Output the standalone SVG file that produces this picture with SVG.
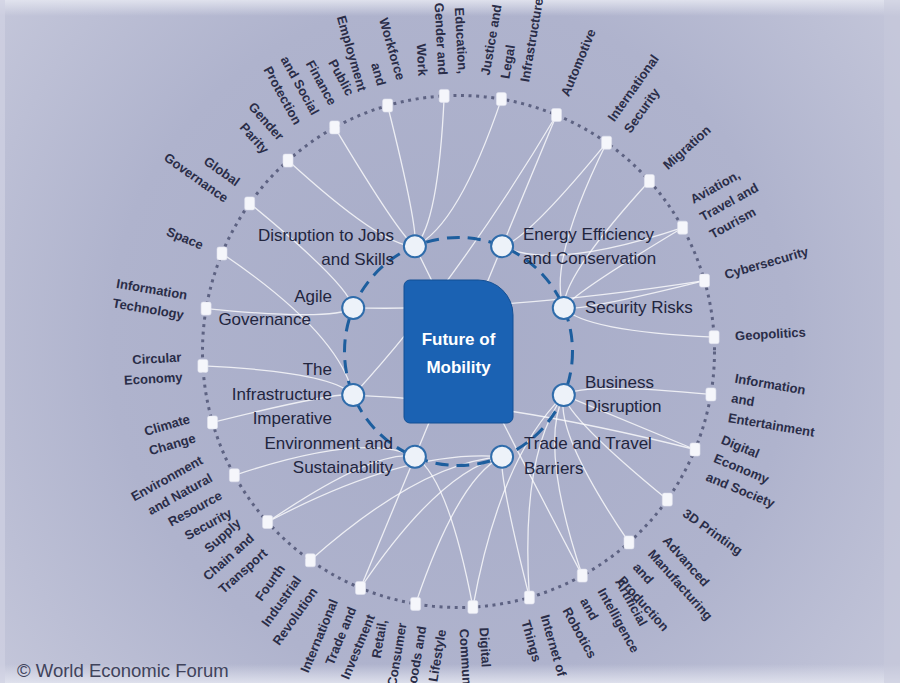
<svg xmlns="http://www.w3.org/2000/svg" width="900" height="683" viewBox="0 0 900 683">
<defs>
<radialGradient id="bg" cx="450" cy="340" r="620" gradientUnits="userSpaceOnUse">
<stop offset="0" stop-color="#a7acc8"/>
<stop offset="0.55" stop-color="#afb3cd"/>
<stop offset="1" stop-color="#c9cbdd"/>
</radialGradient>
<linearGradient id="topband" x1="0" y1="0" x2="0" y2="1">
<stop offset="0" stop-color="#e4e6f0" stop-opacity="0.9"/>
<stop offset="1" stop-color="#e4e6f0" stop-opacity="0"/>
</linearGradient>
<linearGradient id="botband" x1="0" y1="0" x2="0" y2="1">
<stop offset="0" stop-color="#e2e4ef" stop-opacity="0"/>
<stop offset="1" stop-color="#e2e4ef" stop-opacity="0.9"/>
</linearGradient>
<style>
.con{fill:none;stroke:#ffffff;stroke-opacity:0.78;stroke-width:1.3}
.on{fill:#f5f6fb;stroke:#e0e3ee;stroke-width:0.6}
.ol{font-family:"Liberation Sans",Arial,sans-serif;font-size:13px;font-weight:bold;fill:#2a2d48}
.il{font-family:"Liberation Sans",Arial,sans-serif;font-size:17px;fill:#22253e}
.inn{fill:#edf2f9;stroke:#2f6cab;stroke-width:2}
</style>
</defs>
<rect width="900" height="683" fill="url(#bg)"/>
<rect width="900" height="16" fill="url(#topband)"/>
<rect y="664" width="900" height="19" fill="url(#botband)"/>
<rect width="5" height="683" fill="#d0d2e2" opacity="0.7"/>
<rect x="884" width="16" height="683" fill="#c7cadc" opacity="0.5"/>

<circle id="outer-ring" cx="458.5" cy="351.5" r="256" fill="none" stroke="#5d6282" stroke-width="3" stroke-dasharray="3 4.6"/>

<g id="connectors">
<path class="con" d="M444.2,95.9 Q438.2,225.2 414.9,246.2"/>
<path class="con" d="M501.4,99.1 Q458.2,226.3 414.9,246.2"/>
<path class="con" d="M556.5,115 Q477.5,305.6 414.9,456.8"/>
<path class="con" d="M556.5,115 Q455.9,284 353.2,395.1"/>
<path class="con" d="M606.6,142.7 Q547.2,263.2 563.8,307.9"/>
<path class="con" d="M606.6,142.7 Q525.6,241.6 502.1,246.2"/>
<path class="con" d="M649.4,181 Q562.2,276.5 563.8,307.9"/>
<path class="con" d="M682.6,227.7 Q573.8,292.9 563.8,307.9"/>
<path class="con" d="M682.6,227.7 Q552.2,271.3 502.1,246.2"/>
<path class="con" d="M704.5,280.6 Q581.5,311.4 563.8,307.9"/>
<path class="con" d="M704.5,280.6 Q507.7,311.4 353.2,307.9"/>
<path class="con" d="M714.1,337.2 Q584.8,331.2 563.8,307.9"/>
<path class="con" d="M710.9,394.4 Q583.7,381.8 563.8,395.1"/>
<path class="con" d="M695,449.5 Q578.1,401.1 563.8,395.1"/>
<path class="con" d="M695,449.5 Q504.4,401.1 353.2,395.1"/>
<path class="con" d="M667.3,499.6 Q568.5,418.6 563.8,395.1"/>
<path class="con" d="M629,542.4 Q555,433.6 563.8,395.1"/>
<path class="con" d="M582.3,575.6 Q538.7,445.2 563.8,395.1"/>
<path class="con" d="M582.3,575.6 Q486.6,393.1 414.9,246.2"/>
<path class="con" d="M529.4,597.5 Q520.2,452.9 563.8,395.1"/>
<path class="con" d="M529.4,597.5 Q498.6,474.5 502.1,456.8"/>
<path class="con" d="M472.9,607.1 Q448.3,477.8 414.9,456.8"/>
<path class="con" d="M472.9,607.1 Q500.4,456.2 563.8,395.1"/>
<path class="con" d="M415.6,603.9 Q458.8,476.7 502.1,456.8"/>
<path class="con" d="M360.5,588 Q439.5,471.1 502.1,456.8"/>
<path class="con" d="M360.5,588 Q408.9,471.1 414.9,456.8"/>
<path class="con" d="M310.4,560.3 Q421.9,461.5 502.1,456.8"/>
<path class="con" d="M267.6,522 Q376.4,448.1 414.9,456.8"/>
<path class="con" d="M267.6,522 Q407,448.1 502.1,456.8"/>
<path class="con" d="M234.4,475.3 Q364.8,431.7 414.9,456.8"/>
<path class="con" d="M212.5,422.4 Q335.5,391.6 353.2,395.1"/>
<path class="con" d="M202.9,365.9 Q332.2,371.8 353.2,395.1"/>
<path class="con" d="M206.1,308.6 Q333.3,321.2 353.2,307.9"/>
<path class="con" d="M222,253.5 Q338.9,332.5 353.2,395.1"/>
<path class="con" d="M249.7,203.4 Q348.6,284.4 353.2,307.9"/>
<path class="con" d="M288,160.6 Q383.5,247.8 414.9,246.2"/>
<path class="con" d="M334.7,127.4 Q399.9,236.2 414.9,246.2"/>
<path class="con" d="M387.6,105.5 Q418.4,228.5 414.9,246.2"/>
</g>

<circle id="inner-ring" cx="458.5" cy="351.5" r="114" fill="none" stroke="#1d5e9e" stroke-width="3" stroke-dasharray="13 8"/>

<g id="center">
<path d="M410,280 H478 A35,35 0 0 1 513,315 V417 A6,6 0 0 1 507,423 H410 A6,6 0 0 1 404,417 V286 A6,6 0 0 1 410,280 Z" fill="#1b62b3" stroke="#124f94" stroke-width="1"/>
<text x="458.5" y="345" text-anchor="middle" font-family="'Liberation Sans',Arial,sans-serif" font-size="17" font-weight="bold" fill="#ffffff">Future of</text>
<text x="458.5" y="373" text-anchor="middle" font-family="'Liberation Sans',Arial,sans-serif" font-size="17" font-weight="bold" fill="#ffffff">Mobility</text>
</g>

<g id="inner-a"><circle class="inn" cx="414.9" cy="246.2" r="11"/><text class="il" text-anchor="end"><tspan x="394" y="241">Disruption to Jobs</tspan><tspan x="394" y="265">and Skills</tspan></text></g>
<g id="inner-b"><circle class="inn" cx="502.1" cy="246.2" r="11"/><text class="il"><tspan x="523" y="240">Energy Efficiency</tspan><tspan x="523" y="264">and Conservation</tspan></text></g>
<g id="inner-c"><circle class="inn" cx="563.8" cy="307.9" r="11"/><text class="il" x="585" y="313">Security Risks</text></g>
<g id="inner-d"><circle class="inn" cx="563.8" cy="395.1" r="11"/><text class="il"><tspan x="585" y="388">Business</tspan><tspan x="585" y="412">Disruption</tspan></text></g>
<g id="inner-e"><circle class="inn" cx="502.1" cy="456.8" r="11"/><text class="il"><tspan x="524" y="449">Trade and Travel</tspan><tspan x="524" y="474">Barriers</tspan></text></g>
<g id="inner-f"><circle class="inn" cx="414.9" cy="456.8" r="11"/><text class="il" text-anchor="end"><tspan x="393" y="449">Environment and</tspan><tspan x="393" y="473">Sustainability</tspan></text></g>
<g id="inner-g"><circle class="inn" cx="353.2" cy="395.1" r="11"/><text class="il" text-anchor="end"><tspan x="332" y="375">The</tspan><tspan x="332" y="399.5">Infrastructure</tspan><tspan x="332" y="424">Imperative</tspan></text></g>
<g id="inner-h"><circle class="inn" cx="353.2" cy="307.9" r="11"/><text class="il" text-anchor="end"><tspan x="332" y="302">Agile</tspan><tspan x="311" y="325">Governance</tspan></text></g>

<g id="o0"><rect class="on" x="439.2" y="89.4" width="10" height="13" rx="2"/><g transform="translate(458.5 351.5) rotate(-93.214) translate(277 0) rotate(180)"><text class="ol" text-anchor="end"><tspan x="0" dy="-15.5">Education,</tspan><tspan x="0" dy="20">Gender and</tspan><tspan x="0" dy="20">Work</tspan></text></g></g>
<g id="o1"><rect class="on" x="496.4" y="92.6" width="10" height="13" rx="2"/><g transform="translate(458.5 351.5) rotate(-80.357) translate(277 0)"><text class="ol"><tspan x="0" dy="-15.5">Justice and</tspan><tspan x="0" dy="20">Legal</tspan><tspan x="0" dy="20">Infrastructure</tspan></text></g></g>
<g id="o2"><rect class="on" x="551.5" y="108.5" width="10" height="13" rx="2"/><g transform="translate(458.5 351.5) rotate(-67.5) translate(277 0)"><text class="ol" dy="4.5">Automotive</text></g></g>
<g id="o3"><rect class="on" x="601.6" y="136.2" width="10" height="13" rx="2"/><g transform="translate(458.5 351.5) rotate(-54.643) translate(277 0)"><text class="ol"><tspan x="0" dy="-5.5">International</tspan><tspan x="0" dy="20">Security</tspan></text></g></g>
<g id="o4"><rect class="on" x="644.4" y="174.5" width="10" height="13" rx="2"/><g transform="translate(458.5 351.5) rotate(-41.786) translate(277 0)"><text class="ol" dy="4.5">Migration</text></g></g>
<g id="o5"><rect class="on" x="677.6" y="221.2" width="10" height="13" rx="2"/><g transform="translate(458.5 351.5) rotate(-28.929) translate(277 0)"><text class="ol"><tspan x="0" dy="-15.5">Aviation,</tspan><tspan x="0" dy="20">Travel and</tspan><tspan x="0" dy="20">Tourism</tspan></text></g></g>
<g id="o6"><rect class="on" x="699.5" y="274.1" width="10" height="13" rx="2"/><g transform="translate(458.5 351.5) rotate(-16.071) translate(277 0)"><text class="ol" dy="4.5">Cybersecurity</text></g></g>
<g id="o7"><rect class="on" x="709.1" y="330.7" width="10" height="13" rx="2"/><g transform="translate(458.5 351.5) rotate(-3.214) translate(277 0)"><text class="ol" dy="4.5">Geopolitics</text></g></g>
<g id="o8"><rect class="on" x="705.9" y="387.9" width="10" height="13" rx="2"/><g transform="translate(458.5 351.5) rotate(9.643) translate(277 0)"><text class="ol"><tspan x="0" dy="-15.5">Information</tspan><tspan x="0" dy="20">and</tspan><tspan x="0" dy="20">Entertainment</tspan></text></g></g>
<g id="o9"><rect class="on" x="690" y="443" width="10" height="13" rx="2"/><g transform="translate(458.5 351.5) rotate(22.5) translate(277 0)"><text class="ol"><tspan x="0" dy="-15.5">Digital</tspan><tspan x="0" dy="20">Economy</tspan><tspan x="0" dy="20">and Society</tspan></text></g></g>
<g id="o10"><rect class="on" x="662.3" y="493.1" width="10" height="13" rx="2"/><g transform="translate(458.5 351.5) rotate(35.357) translate(277 0)"><text class="ol" dy="4.5">3D Printing</text></g></g>
<g id="o11"><rect class="on" x="624" y="535.9" width="10" height="13" rx="2"/><g transform="translate(458.5 351.5) rotate(48.214) translate(277 0)"><text class="ol"><tspan x="0" dy="-25.5">Advanced</tspan><tspan x="0" dy="20">Manufacturing</tspan><tspan x="0" dy="20">and</tspan><tspan x="0" dy="20">Production</tspan></text></g></g>
<g id="o12"><rect class="on" x="577.3" y="569.1" width="10" height="13" rx="2"/><g transform="translate(458.5 351.5) rotate(61.071) translate(277 0)"><text class="ol"><tspan x="0" dy="-25.5">Artificial</tspan><tspan x="0" dy="20">Intelligence</tspan><tspan x="0" dy="20">and</tspan><tspan x="0" dy="20">Robotics</tspan></text></g></g>
<g id="o13"><rect class="on" x="524.4" y="591" width="10" height="13" rx="2"/><g transform="translate(458.5 351.5) rotate(73.929) translate(277 0)"><text class="ol"><tspan x="0" dy="-5.5">Internet of</tspan><tspan x="0" dy="20">Things</tspan></text></g></g>
<g id="o14"><rect class="on" x="467.9" y="600.6" width="10" height="13" rx="2"/><g transform="translate(458.5 351.5) rotate(86.786) translate(277 0)"><text class="ol"><tspan x="0" dy="-5.5">Digital</tspan><tspan x="0" dy="20">Communications</tspan></text></g></g>
<g id="o15"><rect class="on" x="410.6" y="597.4" width="10" height="13" rx="2"/><g transform="translate(458.5 351.5) rotate(99.643) translate(277 0) rotate(180)"><text class="ol" text-anchor="end"><tspan x="0" dy="-25.5">Retail,</tspan><tspan x="0" dy="20">Consumer</tspan><tspan x="0" dy="20">Goods and</tspan><tspan x="0" dy="20">Lifestyle</tspan></text></g></g>
<g id="o16"><rect class="on" x="355.5" y="581.5" width="10" height="13" rx="2"/><g transform="translate(458.5 351.5) rotate(112.5) translate(277 0) rotate(180)"><text class="ol" text-anchor="end"><tspan x="0" dy="-15.5">International</tspan><tspan x="0" dy="20">Trade and</tspan><tspan x="0" dy="20">Investment</tspan></text></g></g>
<g id="o17"><rect class="on" x="305.4" y="553.8" width="10" height="13" rx="2"/><g transform="translate(458.5 351.5) rotate(125.357) translate(277 0) rotate(180)"><text class="ol" text-anchor="end"><tspan x="0" dy="-15.5">Fourth</tspan><tspan x="0" dy="20">Industrial</tspan><tspan x="0" dy="20">Revolution</tspan></text></g></g>
<g id="o18"><rect class="on" x="262.6" y="515.5" width="10" height="13" rx="2"/><g transform="translate(458.5 351.5) rotate(138.214) translate(277 0) rotate(180)"><text class="ol" text-anchor="end"><tspan x="0" dy="-15.5">Supply</tspan><tspan x="0" dy="20">Chain and</tspan><tspan x="0" dy="20">Transport</tspan></text></g></g>
<g id="o19"><rect class="on" x="229.4" y="468.8" width="10" height="13" rx="2"/><g transform="translate(458.5 351.5) rotate(151.071) translate(277 0) rotate(180)"><text class="ol" text-anchor="end"><tspan x="0" dy="-25.5">Environment</tspan><tspan x="0" dy="20">and Natural</tspan><tspan x="0" dy="20">Resource</tspan><tspan x="0" dy="20">Security</tspan></text></g></g>
<g id="o20"><rect class="on" x="207.5" y="415.9" width="10" height="13" rx="2"/><g transform="translate(458.5 351.5) rotate(163.929) translate(277 0) rotate(180)"><text class="ol" text-anchor="end"><tspan x="0" dy="-5.5">Climate</tspan><tspan x="0" dy="20">Change</tspan></text></g></g>
<g id="o21"><rect class="on" x="197.9" y="359.4" width="10" height="13" rx="2"/><g transform="translate(458.5 351.5) rotate(176.786) translate(277 0) rotate(180)"><text class="ol" text-anchor="end"><tspan x="0" dy="-5.5">Circular</tspan><tspan x="0" dy="20">Economy</tspan></text></g></g>
<g id="o22"><rect class="on" x="201.1" y="302.1" width="10" height="13" rx="2"/><g transform="translate(458.5 351.5) rotate(189.643) translate(277 0) rotate(180)"><text class="ol" text-anchor="end"><tspan x="0" dy="-5.5">Information</tspan><tspan x="0" dy="20">Technology</tspan></text></g></g>
<g id="o23"><rect class="on" x="217" y="247" width="10" height="13" rx="2"/><g transform="translate(458.5 351.5) rotate(202.5) translate(277 0) rotate(180)"><text class="ol" text-anchor="end" dy="4.5">Space</text></g></g>
<g id="o24"><rect class="on" x="244.7" y="196.9" width="10" height="13" rx="2"/><g transform="translate(458.5 351.5) rotate(215.357) translate(277 0) rotate(180)"><text class="ol" text-anchor="end"><tspan x="0" dy="-5.5">Global</tspan><tspan x="0" dy="20">Governance</tspan></text></g></g>
<g id="o25"><rect class="on" x="283" y="154.1" width="10" height="13" rx="2"/><g transform="translate(458.5 351.5) rotate(228.214) translate(277 0) rotate(180)"><text class="ol" text-anchor="end"><tspan x="0" dy="-5.5">Gender</tspan><tspan x="0" dy="20">Parity</tspan></text></g></g>
<g id="o26"><rect class="on" x="329.7" y="120.9" width="10" height="13" rx="2"/><g transform="translate(458.5 351.5) rotate(241.071) translate(277 0) rotate(180)"><text class="ol" text-anchor="end"><tspan x="0" dy="-25.5">Public</tspan><tspan x="0" dy="20">Finance</tspan><tspan x="0" dy="20">and Social</tspan><tspan x="0" dy="20">Protection</tspan></text></g></g>
<g id="o27"><rect class="on" x="382.6" y="99" width="10" height="13" rx="2"/><g transform="translate(458.5 351.5) rotate(253.929) translate(277 0) rotate(180)"><text class="ol" text-anchor="end"><tspan x="0" dy="-15.5">Workforce</tspan><tspan x="0" dy="20">and</tspan><tspan x="0" dy="20">Employment</tspan></text></g></g>

<text x="17" y="677" font-family="'Liberation Sans',Arial,sans-serif" font-size="18.5" fill="#40435b">© World Economic Forum</text>
</svg>
